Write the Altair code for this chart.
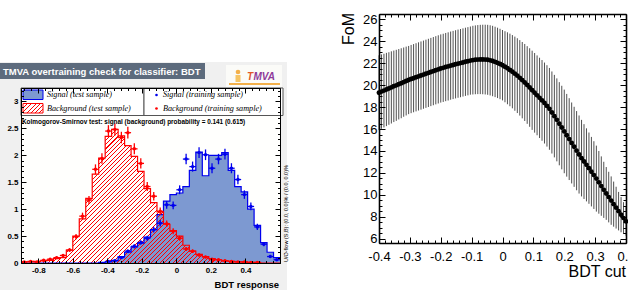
import altair as alt
import numpy as np
import pandas as pd

# ================= data: left panel (TMVA overtraining check) =================
bin_lo, bin_hi, n_bins = -0.9, 0.6, 40
sig_test = [0, 0, 0, 0, 0, 0, 0, 0, 0, 0, 0, 0,
            0.01, 0.02, 0.05, 0.12, 0.20, 0.30, 0.37, 0.48, 0.62, 0.90, 1.15, 1.27,
            1.30, 1.42, 1.72, 2.06, 1.62, 2.00, 2.00, 2.05, 1.72, 1.42, 1.32, 1.00,
            0.70, 0.38, 0.20, 0.10]
bkg_test = [0.02, 0.02, 0.03, 0.04, 0.05, 0.08, 0.10, 0.24, 0.50, 0.82, 1.20, 1.65,
            1.95, 2.35, 2.48, 2.36, 2.18, 1.98, 1.70, 1.38, 1.12, 0.95, 0.72, 0.60,
            0.50, 0.33, 0.22, 0.16, 0.12, 0.08, 0.06, 0.04, 0.03, 0.02, 0.02, 0.01,
            0.01, 0, 0, 0]
sig_train = [None] * 13 + [0.03, 0.04, 0.10, 0.22, 0.31, 0.38, 0.46, 0.62, 0.74, 1.08,
                           1.07, 1.36, 1.93, 1.79, 2.05, 2.01, 1.76, 1.93, 2.02, 1.76,
                           1.55, 1.27, 1.05, 0.67, 0.35, 0.12, 0.06]
sig_train_err = [None] * 13 + [0.012, 0.014, 0.022, 0.033, 0.039, 0.043, 0.047, 0.055,
                               0.060, 0.073, 0.072, 0.082, 0.097, 0.094, 0.100, 0.099,
                               0.093, 0.097, 0.100, 0.093, 0.087, 0.079, 0.072, 0.057,
                               0.041, 0.024, 0.017]
bkg_train = [0.02, 0.03, 0.02, 0.05, 0.07, 0.10, 0.14, 0.24, 0.49, 0.87, 1.17, 1.74,
             1.94, 2.45, 2.48, 2.33, 2.42, 2.12, 1.85, 1.42, 1.24, 0.96, 0.73, 0.59,
             0.46, 0.26, 0.22, 0.15, 0.11, 0.07, 0.06, 0.04, 0.03, 0.02, 0.02, 0.01,
             0.01, None, None, None]
bkg_train_err = [0.010, 0.012, 0.010, 0.016, 0.019, 0.022, 0.026, 0.034, 0.049, 0.065,
                 0.076, 0.092, 0.098, 0.110, 0.110, 0.107, 0.109, 0.102, 0.095, 0.083,
                 0.078, 0.069, 0.060, 0.054, 0.047, 0.036, 0.033, 0.027, 0.023, 0.019,
                 0.017, 0.014, 0.012, 0.010, 0.010, 0.007, 0.007, None, None, None]

lx_major = [-0.8, -0.6, -0.4, -0.2, 0, 0.2, 0.4]
ly_major = [0, 0.5, 1, 1.5, 2, 2.5, 3]

# ================= data: right panel (FoM vs BDT cut) =================
cut_lo, cut_hi, n_cut = -0.4, 0.4, 101
fom = [19.30, 19.40, 19.49, 19.59, 19.68, 19.78, 19.88, 19.97, 20.07, 20.16,
       20.26, 20.36, 20.45, 20.54, 20.62, 20.70, 20.78, 20.86, 20.94, 21.02,
       21.10, 21.18, 21.26, 21.34, 21.42, 21.50, 21.56, 21.63, 21.69, 21.76,
       21.82, 21.88, 21.94, 21.99, 22.05, 22.11, 22.16, 22.22, 22.26, 22.29,
       22.31, 22.32, 22.32, 22.31, 22.29, 22.24, 22.18, 22.10, 22.01, 21.91,
       21.80, 21.66, 21.52, 21.37, 21.21, 21.03, 20.85, 20.65, 20.44, 20.23,
       20.00, 19.77, 19.52, 19.29, 19.06, 18.83, 18.60, 18.36, 18.10, 17.83,
       17.50, 17.17, 16.83, 16.48, 16.13, 15.78, 15.43, 15.08, 14.73, 14.38,
       14.03, 13.68, 13.35, 13.04, 12.74, 12.44, 12.12, 11.81, 11.49, 11.15,
       10.81, 10.47, 10.14, 9.81, 9.49, 9.17, 8.85, 8.53, 8.21, 7.90, 7.60]
fom_err = [3.40, 3.38, 3.35, 3.33, 3.30, 3.28, 3.25, 3.23, 3.20, 3.18, 3.15, 3.13, 3.10,
           3.10, 3.10, 3.10, 3.10, 3.10, 3.10, 3.10, 3.10, 3.10, 3.10, 3.10, 3.10,
           3.10, 3.10, 3.10, 3.10, 3.10, 3.10, 3.10, 3.10, 3.10, 3.10, 3.10, 3.10, 3.10,
           3.12, 3.13, 3.14, 3.15, 3.16, 3.17, 3.18, 3.19, 3.20, 3.20, 3.20, 3.20, 3.20,
           3.23, 3.27, 3.30, 3.33, 3.37, 3.40, 3.43, 3.47, 3.50, 3.53, 3.57, 3.60,
           3.62, 3.63, 3.65, 3.67, 3.68, 3.70, 3.72, 3.73, 3.75, 3.77, 3.78, 3.80, 3.80,
           3.76, 3.72, 3.68, 3.64, 3.60, 3.55,
           3.48, 3.40, 3.32, 3.24, 3.16, 3.08,
           3.00,
           2.85, 2.70, 2.55, 2.40, 2.30, 2.20,
           2.05, 1.90, 1.75, 1.60, 1.45, 1.30]
rx_major = [-0.4, -0.3, -0.2, -0.1, 0, 0.1, 0.2, 0.3, 0.4]
ry_major = [6, 8, 10, 12, 14, 16, 18, 20, 22, 24, 26]

# ================= layout / style =================
W, H = 628, 290
L_X0, L_X1, L_YB, L_YT = 21, 280, 263, 88          # left plot frame (px)
R_X0, R_X1, R_YB, R_YT = 379, 626, 243, 14         # right plot frame (px)
L_YMAX = 3.25
R_YMIN, R_YMAX = 5.636, 26.455

SIG_FILL, SIG_LINE, BKG_LINE = "#7d99d1", "#0000ee", "#ff0000"
FONT, SERIF = "Liberation Sans", "Liberation Serif"
LBL = "(datum.value < 0 ? '-' : '') + format(abs(datum.value), '~g')"

lx_minor = [round(-0.88 + 0.04 * k, 2) for k in range(38)]
ly_minor = [round(0.1 * k, 1) for k in range(33)]
rx_minor = [round(-0.4 + 0.02 * k, 2) for k in range(41)]
ry_minor = [round(6 + 0.5 * k, 1) for k in range(41)]

ONE = pd.DataFrame({"k": [0]})


def hatch(w, h, period=4.3, frac=0.24, color="#ff0000"):
    k = (w + h) * w / (w * w + h * h)
    n = max(1, int(round((w + h) / period)))
    clear = "rgba(255,0,0,0)"
    stops = []
    for j in range(n):
        a, b, c = j / n, (j + frac) / n, (j + 1) / n
        stops += [alt.GradientStop(color=color, offset=a),
                  alt.GradientStop(color=color, offset=b),
                  alt.GradientStop(color=clear, offset=b),
                  alt.GradientStop(color=clear, offset=c)]
    return alt.LinearGradient(gradient="linear", stops=stops, x1=0, y1=0, x2=k, y2=k * h / w)


def box(x0, x1, y0, y1, fill, stroke=None, sw=1.0):
    kw = {"fill": fill}
    if stroke is not None:
        kw.update(stroke=stroke, strokeWidth=sw)
    else:
        kw.update(strokeWidth=0)
    return alt.Chart(ONE).mark_rect(**kw).encode(
        x=alt.value(x0), x2=alt.value(x1), y=alt.value(y0), y2=alt.value(y1))


def text(t, x, y, size, color="#000000", weight="normal", style="normal", font=FONT,
         align="left", baseline="middle", angle=0):
    return alt.Chart(ONE).mark_text(
        text=t, fontSize=size, font=font, fontWeight=weight, fontStyle=style,
        color=color, align=align, baseline=baseline, angle=angle
    ).encode(x=alt.value(x), y=alt.value(y))


def ax(orient, offset, values, ticks=False, tsize=0, labels=False, domain=False,
       dw=1.0, lsize=8, lweight="normal", lpad=3):
    kw = dict(orient=orient, offset=offset, values=values, ticks=ticks, tickSize=tsize,
              tickColor="#000000", tickWidth=1, domain=domain, domainColor="#000000",
              domainWidth=dw, labels=labels, grid=False, title=None, zindex=2)
    if labels:
        kw.update(labelExpr=LBL, labelFont=FONT, labelFontSize=lsize,
                  labelFontWeight=lweight, labelColor="#000000", labelPadding=lpad,
                  labelFlush=False, labelOverlap=False)
    return alt.Axis(**kw)


def axis_layers(xs, ys, xv, yv, xaxes, yaxes):
    df = pd.DataFrame({"xv": [xv], "yv": [yv]})
    out = []
    for xa, ya in zip(xaxes, yaxes):
        out.append(alt.Chart(df).mark_point(opacity=0).encode(
            x=alt.X("xv:Q", scale=xs, axis=xa),
            y=alt.Y("yv:Q", scale=ys, axis=ya)))
    return out


# ================= left panel =================
xsL = alt.Scale(domain=[bin_lo, bin_hi], range=[L_X0, L_X1], nice=False, zero=False)
ysL = alt.Scale(domain=[0, L_YMAX], range=[L_YB, L_YT], nice=False, zero=False)

edges = np.linspace(bin_lo, bin_hi, n_bins + 1)
hist = pd.DataFrame({"x": edges, "sig": sig_test + [sig_test[-1]],
                     "bkg": bkg_test + [bkg_test[-1]]})

rows = []
for name, vals, errs in (("sig", sig_train, sig_train_err), ("bkg", bkg_train, bkg_train_err)):
    for i, (v, e) in enumerate(zip(vals, errs)):
        if v is None:
            continue
        rows.append({"cls": name, "c": (edges[i] + edges[i + 1]) / 2, "x0": edges[i],
                     "x1": edges[i + 1], "v": v, "lo": max(v - e, 0), "hi": v + e})
train = pd.DataFrame(rows)

hw = L_X1 - L_X0
hh = max(bkg_test) / L_YMAX * (L_YB - L_YT)
bkg_hatch = hatch(hw, hh)

X = lambda f: alt.X(f, scale=xsL, axis=None)
Y = lambda f: alt.Y(f, scale=ysL, axis=None)

sig_area = alt.Chart(hist).mark_area(interpolate="step-after", fill=SIG_FILL).encode(
    x=X("x:Q"), y=Y("sig:Q"), y2=alt.datum(0))
bkg_area = alt.Chart(hist).mark_area(interpolate="step-after", fill=bkg_hatch).encode(
    x=X("x:Q"), y=Y("bkg:Q"), y2=alt.datum(0))
sig_line = alt.Chart(hist).mark_line(interpolate="step-after", color=SIG_LINE, strokeWidth=1.2).encode(
    x=X("x:Q"), y=Y("sig:Q"))
bkg_line = alt.Chart(hist).mark_line(interpolate="step-after", color=BKG_LINE, strokeWidth=1.2).encode(
    x=X("x:Q"), y=Y("bkg:Q"))

pt_color = alt.Color("cls:N", scale=alt.Scale(domain=["sig", "bkg"], range=[SIG_LINE, BKG_LINE]), legend=None)
err_h = alt.Chart(train).mark_rule(strokeWidth=1.3).encode(
    x=X("x0:Q"), x2="x1:Q", y=Y("v:Q"), color=pt_color)
err_v = alt.Chart(train).mark_rule(strokeWidth=1.3).encode(
    x=X("c:Q"), y=Y("lo:Q"), y2="hi:Q", color=pt_color)
pts = alt.Chart(train).mark_circle(size=12, opacity=1).encode(
    x=X("c:Q"), y=Y("v:Q"), color=pt_color)

left_axes = axis_layers(
    xsL, ysL, 0, 1,
    [ax("bottom", L_YB - H, lx_major, labels=True, domain=True, lsize=8, lweight="bold", lpad=3),
     ax("top", -L_YB, lx_major, ticks=True, tsize=5),
     ax("top", -L_YB, lx_minor, ticks=True, tsize=2.5),
     ax("bottom", L_YT - H, lx_major, ticks=True, tsize=5, domain=True),
     ax("bottom", L_YT - H, lx_minor, ticks=True, tsize=2.5)],
    [ax("left", -L_X0, ly_major, labels=True, domain=True, lsize=8, lweight="bold", lpad=3),
     ax("right", L_X0 - W, ly_major, ticks=True, tsize=5),
     ax("right", L_X0 - W, ly_minor, ticks=True, tsize=2.5),
     ax("left", -L_X1, ly_major, ticks=True, tsize=5, domain=True),
     ax("left", -L_X1, ly_minor, ticks=True, tsize=2.5)])

left_panel = alt.layer(sig_area, bkg_area, sig_line, bkg_line, err_h, err_v, pts,
                       *left_axes).resolve_axis(x="independent", y="independent")

# ================= right panel =================
xsR = alt.Scale(domain=[cut_lo, cut_hi], range=[R_X0, R_X1], nice=False, zero=False)
ysR = alt.Scale(domain=[R_YMIN, R_YMAX], range=[R_YB, R_YT], nice=False, zero=False)

cuts = np.round(np.linspace(cut_lo, cut_hi, n_cut), 3)
fdf = pd.DataFrame({"cut": cuts, "fom": fom, "err": fom_err})
fdf["lo"] = (fdf["fom"] - fdf["err"]).clip(lower=R_YMIN)
fdf["hi"] = (fdf["fom"] + fdf["err"]).clip(upper=R_YMAX)

fom_err_rules = alt.Chart(fdf).mark_rule(color="#3c3c3c", strokeWidth=0.9).encode(
    x=alt.X("cut:Q", scale=xsR, axis=None), y=alt.Y("lo:Q", scale=ysR, axis=None), y2="hi:Q")
fom_pts = alt.Chart(fdf).mark_circle(size=24, color="#000000", opacity=1).encode(
    x=alt.X("cut:Q", scale=xsR, axis=None), y=alt.Y("fom:Q", scale=ysR, axis=None))

right_axes = axis_layers(
    xsR, ysR, 0, 10,
    [ax("bottom", R_YB - H, rx_major, labels=True, domain=True, dw=1.6, lsize=13, lpad=7),
     ax("top", -R_YB, rx_major, ticks=True, tsize=6),
     ax("top", -R_YB, rx_minor, ticks=True, tsize=3),
     ax("bottom", R_YT - H, rx_major, ticks=True, tsize=6, domain=True, dw=1.6),
     ax("bottom", R_YT - H, rx_minor, ticks=True, tsize=3)],
    [ax("left", -R_X0, ry_major, labels=True, domain=True, dw=1.6, lsize=13, lpad=2),
     ax("right", R_X0 - W, ry_major, ticks=True, tsize=6),
     ax("right", R_X0 - W, ry_minor, ticks=True, tsize=3),
     ax("left", -R_X1, ry_major, ticks=True, tsize=6, domain=True, dw=1.6),
     ax("left", -R_X1, ry_minor, ticks=True, tsize=3)])

right_panel = alt.layer(fom_err_rules, fom_pts, *right_axes).resolve_axis(
    x="independent", y="independent")

# ================= decorations =================
back = [
    box(0, 287, 62, 290, "#f0f0f0"),
    box(L_X0, L_X1, L_YT, L_YB, "#fffffd"),
    box(0, 205, 63, 79, "#5D6B7D"),
    text("TMVA overtraining check for classifier: BDT", 3, 71.5, 9.5, color="#ffffff", weight="bold"),
    box(226, 282, 65, 87, "#fbfbf8"),
    box(229, 280, 83, 85, "#f3b04a"),
    alt.Chart(ONE).mark_circle(size=22, color="#f3b04a", opacity=1).encode(
        x=alt.value(238), y=alt.value(72)),
    box(235.5, 240.5, 75, 82, "#f6c463"),
    text("T", 247, 77, 10, color="#e2572b", weight="bold", style="italic"),
    text("MVA", 253.5, 77, 10, color="#8e3a9a", weight="bold", style="italic"),
]

sw_w, sw_h = 20, 9.5
front = [
    box(L_X0, 144, L_YT, 115.5, "#ffffff", stroke="#555555", sw=1),
    box(144, 283, L_YT, 115.5, "#ffffff", stroke="#555555", sw=1),
    box(23, 23 + sw_w, 90, 90 + sw_h, SIG_FILL, stroke=SIG_LINE, sw=1),
    box(23, 23 + sw_w, 103.5, 103.5 + sw_h, hatch(sw_w, sw_h), stroke=BKG_LINE, sw=1),
    text("Signal (test sample)", 47, 95, 8.2, style="italic", font=SERIF),
    text("Background (test sample)", 47, 108.5, 8.2, style="italic", font=SERIF),
    alt.Chart(ONE).mark_circle(size=7, color=SIG_LINE, opacity=1).encode(
        x=alt.value(156.5), y=alt.value(95)),
    alt.Chart(ONE).mark_circle(size=7, color=BKG_LINE, opacity=1).encode(
        x=alt.value(156.5), y=alt.value(108.5)),
    text("Signal (training sample)", 163, 95, 8.2, style="italic", font=SERIF),
    text("Background (training sample)", 163, 108.5, 8.2, style="italic", font=SERIF),
    text("Kolmogorov-Smirnov test: signal (background) probability = 0.141 (0.615)",
         22, 122, 6.4, weight="bold"),
    text("BDT response", 279, 284.5, 9.5, weight="bold", align="right"),
    text("U/O-flow (S,B): (0.0, 0.0)% / (0.0, 0.0)%", 285.5, 262, 5.5, angle=270),
    text("FoM", 349, 13, 16, angle=270, align="right"),
    text("BDT cut", 626, 277, 16, align="right", baseline="alphabetic"),
]

chart = alt.layer(*back, left_panel, right_panel, *front).resolve_scale(
    x="independent", y="independent").resolve_axis(
    x="independent", y="independent").properties(
    width=W, height=H, autosize=alt.AutoSizeParams(type="none"), padding=0,
    background="#ffffff").configure_view(stroke=None)

chart.save("out.html", embed_options={"renderer": "svg", "actions": False})
